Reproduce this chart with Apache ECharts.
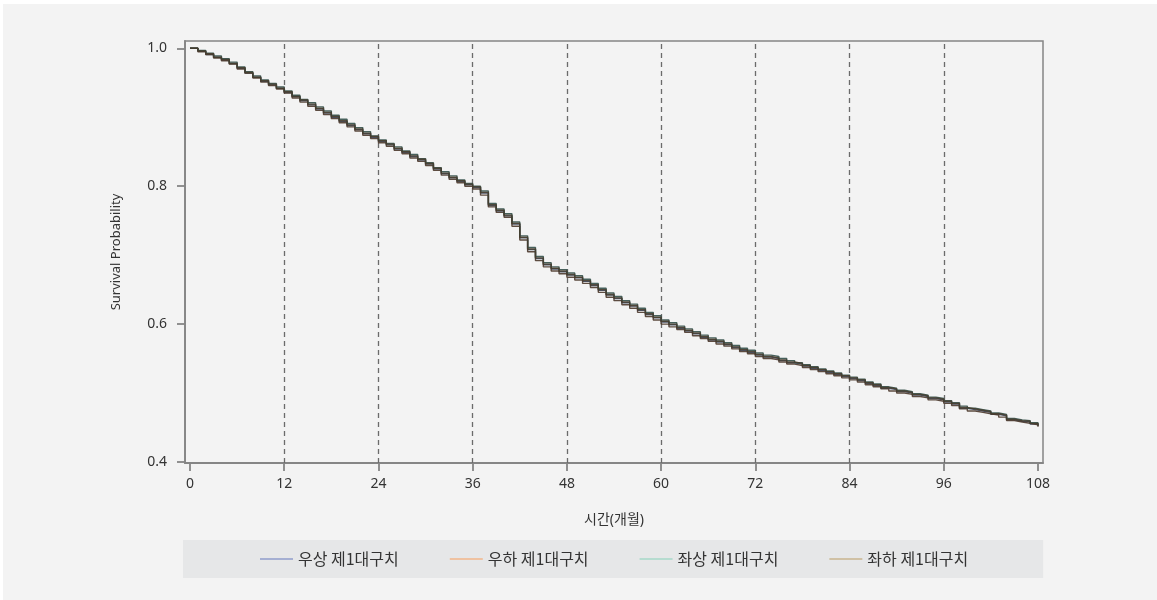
<!DOCTYPE html>
<html><head><meta charset="utf-8">
<script src="https://cdn.jsdelivr.net/npm/echarts@6/dist/echarts.min.js"></script>
<style>
html,body{margin:0;padding:0;background:#ffffff;width:1157px;height:600px;overflow:hidden;}
#chart{position:absolute;left:3px;top:4px;width:1154px;height:596px;background:#f3f3f3;}
</style></head>
<body><div id="chart"></div>
<script>
const months = [0,1,2,3,4,5,6,7,8,9,10,11,12,13,14,15,16,17,18,19,20,21,22,23,24,25,26,27,28,29,30,31,32,33,34,35,36,37,38,39,40,41,42,43,44,45,46,47,48,49,50,51,52,53,54,55,56,57,58,59,60,61,62,63,64,65,66,67,68,69,70,71,72,73,74,75,76,77,78,79,80,81,82,83,84,85,86,87,88,89,90,91,92,93,94,95,96,97,98,99,100,101,102,103,104,105,106,107,108];
const seriesNames = ['우상 제1대구치','우하 제1대구치','좌상 제1대구치','좌하 제1대구치'];
const upperRight = [1.000,0.996,0.991,0.987,0.983,0.978,0.971,0.964,0.958,0.952,
0.947,0.942,0.936,0.930,0.924,0.918,0.912,0.906,0.900,0.894,
0.888,0.882,0.876,0.871,0.865,0.860,0.854,0.849,0.843,0.838,
0.832,0.825,0.818,0.812,0.807,0.802,0.798,0.790,0.772,0.764,
0.757,0.745,0.725,0.708,0.695,0.686,0.680,0.676,0.671,0.667,
0.662,0.656,0.649,0.642,0.637,0.631,0.626,0.620,0.614,0.609,
0.603,0.599,0.594,0.590,0.586,0.581,0.577,0.574,0.570,0.566,
0.562,0.559,0.555,0.552,0.550,0.547,0.544,0.542,0.539,0.536,
0.533,0.530,0.527,0.524,0.521,0.518,0.514,0.511,0.507,0.505,
0.502,0.500,0.497,0.495,0.492,0.490,0.487,0.484,0.478,0.476,
0.474,0.472,0.469,0.467,0.461,0.459,0.458,0.455,0.452];
const lowerRight = [1.000,0.995,0.991,0.986,0.982,0.977,0.970,0.964,0.957,0.951,
0.946,0.941,0.935,0.928,0.922,0.916,0.910,0.904,0.898,0.892,
0.886,0.880,0.874,0.869,0.863,0.858,0.852,0.847,0.841,0.836,
0.830,0.823,0.816,0.810,0.805,0.800,0.796,0.787,0.770,0.762,
0.755,0.742,0.722,0.705,0.692,0.683,0.677,0.673,0.668,0.664,
0.659,0.653,0.646,0.639,0.634,0.628,0.623,0.617,0.611,0.606,
0.600,0.596,0.592,0.588,0.583,0.579,0.575,0.571,0.568,0.564,
0.560,0.557,0.553,0.550,0.548,0.545,0.542,0.540,0.537,0.534,
0.531,0.528,0.525,0.522,0.519,0.516,0.512,0.509,0.506,0.503,
0.500,0.498,0.495,0.493,0.490,0.488,0.485,0.482,0.477,0.474,
0.472,0.470,0.468,0.465,0.460,0.458,0.456,0.454,0.451];
const upperLeft = [1.000,0.997,0.993,0.989,0.985,0.980,0.973,0.966,0.960,0.954,
0.949,0.944,0.938,0.932,0.926,0.921,0.915,0.909,0.903,0.897,
0.891,0.885,0.879,0.873,0.867,0.862,0.857,0.851,0.846,0.840,
0.834,0.827,0.821,0.815,0.809,0.804,0.800,0.793,0.775,0.767,
0.760,0.748,0.728,0.711,0.698,0.689,0.683,0.679,0.674,0.670,
0.665,0.659,0.652,0.645,0.640,0.634,0.629,0.623,0.617,0.612,
0.606,0.602,0.597,0.593,0.589,0.584,0.580,0.577,0.573,0.569,
0.565,0.562,0.558,0.555,0.553,0.550,0.547,0.544,0.541,0.538,
0.535,0.532,0.529,0.526,0.523,0.520,0.516,0.513,0.509,0.507,
0.504,0.502,0.499,0.497,0.494,0.492,0.489,0.486,0.481,0.478,
0.476,0.474,0.471,0.469,0.463,0.461,0.460,0.457,0.454];
const lowerLeft = [1.000,0.996,0.992,0.987,0.984,0.978,0.972,0.965,0.958,0.953,
0.948,0.942,0.937,0.930,0.925,0.919,0.913,0.907,0.901,0.895,
0.889,0.883,0.877,0.872,0.866,0.861,0.855,0.850,0.844,0.839,
0.833,0.826,0.819,0.813,0.808,0.803,0.799,0.791,0.773,0.765,
0.758,0.746,0.726,0.709,0.696,0.687,0.681,0.677,0.672,0.668,
0.663,0.657,0.650,0.643,0.638,0.632,0.627,0.621,0.615,0.610,
0.604,0.600,0.595,0.591,0.587,0.582,0.578,0.575,0.571,0.567,
0.563,0.560,0.556,0.553,0.551,0.548,0.545,0.543,0.540,0.537,
0.534,0.531,0.528,0.525,0.522,0.519,0.515,0.512,0.508,0.506,
0.503,0.501,0.498,0.496,0.493,0.491,0.488,0.485,0.479,0.477,
0.475,0.473,0.470,0.468,0.462,0.460,0.459,0.456,0.453];
const xTicks = [0,12,24,36,48,60,72,84,96,108];
const yTicks = [0.4,0.6,0.8,1.0];
const guideMonths = [12,24,36,48,60,72,84,96];

const legendColors = ['#8f9dcb','#f2b68a','#a6d8c8','#c8b58f'];
const lineColors = ['#3b4258','#4d3a2e','#34504a','#463d2e'];
const allValues = [upperRight, lowerRight, upperLeft, lowerLeft];

const FONT = "'Noto Sans', 'Noto Sans CJK KR', sans-serif";
const chart = echarts.init(document.getElementById('chart'));
const series = allValues.map((vals, k) => {
  const s = {
    name: seriesNames[k],
    type: 'line',
    step: 'end',
    showSymbol: false,
    symbol: 'none',
    data: months.map((m, i) => [m, vals[i]]),
    lineStyle: { color: lineColors[k], width: 1.4, opacity: 0.9 },
    itemStyle: { color: legendColors[k] },
    z: 3,
    animation: false
  };
  if (k === 0) {
    s.markLine = {
      silent: true,
      symbol: 'none',
      label: { show: false },
      animation: false,
      lineStyle: { color: '#6b6b6b', type: [5, 4], width: 1.3 },
      data: guideMonths.map(m => ({ xAxis: m })),
      z: 1
    };
  }
  return s;
});

chart.setOption({
  backgroundColor: '#f3f3f3',
  animation: false,
  textStyle: { fontFamily: FONT },
  grid: {
    left: 182, top: 37, right: 114, bottom: 137,
    show: true, borderColor: '#858585', borderWidth: 1.5, backgroundColor: 'transparent'
  },
  xAxis: {
    type: 'value',
    min: -0.64, max: 108.64,
    name: '시간(개월)',
    nameLocation: 'middle',
    nameGap: 50,
    nameTextStyle: { fontSize: 14, color: '#333', fontFamily: FONT },
    axisLine: { show: true, onZero: false, lineStyle: { color: '#858585', width: 1.8 } },
    axisTick: { show: true, length: 8, customValues: xTicks, lineStyle: { color: '#858585', width: 1.8 } },
    axisLabel: { customValues: xTicks, fontSize: 14, color: '#333', margin: 14, fontFamily: FONT },
    splitLine: { show: false }
  },
  yAxis: {
    type: 'value',
    min: 0.3985, max: 1.0106,
    name: 'Survival Probability',
    nameLocation: 'middle',
    nameGap: 62,
    nameRotate: 90,
    nameTextStyle: { fontSize: 13, color: '#333', fontFamily: FONT },
    axisLine: { show: true, onZero: false, lineStyle: { color: '#858585', width: 1.8 } },
    axisTick: { show: true, length: 8, customValues: yTicks, lineStyle: { color: '#858585', width: 1.8 } },
    axisLabel: { customValues: yTicks, fontSize: 14, color: '#333', margin: 18, fontFamily: FONT,
      formatter: v => v.toFixed(1) },
    splitLine: { show: false }
  },
  legend: {
    show: true,
    bottom: 22,
    left: 180,
    backgroundColor: '#e6e7e8',
    padding: [11, 75, 11, 77],
    itemGap: 51,
    itemWidth: 33,
    itemHeight: 10,
    icon: 'path://M0,4.3 L33,4.3 L33,5.7 L0,5.7 Z',
    textStyle: { fontSize: 16, color: '#333', fontFamily: "'Noto Sans CJK KR', sans-serif" },
    data: seriesNames.map((n, k) => ({ name: n, itemStyle: { color: legendColors[k] } }))
  },
  series: series
});
</script></body></html>
